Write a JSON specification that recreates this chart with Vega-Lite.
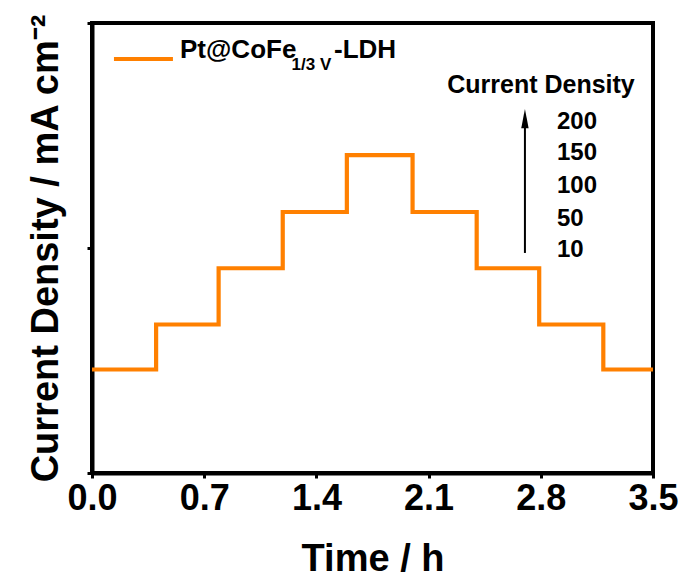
{
  "$schema": "https://vega.github.io/schema/vega-lite/v6.json",
  "width": 561,
  "height": 450,
  "autosize": {"type": "none"},
  "padding": {"left": 92, "top": 23, "right": 28, "bottom": 106},
  "background": "white",
  "config": {
    "font": "Liberation Sans",
    "view": {"stroke": "black", "strokeWidth": 4},
    "axis": {"grid": false, "domainColor": "black", "domainWidth": 4, "tickColor": "black", "tickWidth": 3, "tickSize": 5, "labelColor": "black", "titleColor": "black", "labelFont": "Liberation Sans", "titleFont": "Liberation Sans", "labelFontWeight": "bold", "titleFontWeight": "bold"}
  },
  "layer": [
    {
      "data": {"values": [
        {"t": 0, "j": 10}, {"t": 0.4, "j": 50}, {"t": 0.79, "j": 100}, {"t": 1.19, "j": 150},
        {"t": 1.59, "j": 200.5}, {"t": 2.0, "j": 150}, {"t": 2.4, "j": 100}, {"t": 2.79, "j": 50},
        {"t": 3.19, "j": 10}, {"t": 3.5, "j": 10}
      ]},
      "mark": {"type": "line", "interpolate": "step-after", "color": "#FF8000", "strokeWidth": 4.2, "clip": true},
      "encoding": {
        "x": {"field": "t", "type": "quantitative", "scale": {"domain": [0, 3.5], "nice": false, "zero": false},
          "axis": {"values": [0, 0.7, 1.4, 2.1, 2.8, 3.5], "format": ".1f", "title": "Time / h", "labelFontSize": 36, "titleFontSize": 38, "labelPadding": 3, "titlePadding": 24, "labelFlush": false}},
        "y": {"field": "j", "type": "quantitative", "scale": {"domain": [-82, 318], "nice": false, "zero": false},
          "axis": {"values": [-82, 118, 318], "labels": false, "title": "Current Density / mA cm⁻²", "titleFontSize": 38, "titlePadding": 20}}
      }
    },
    {
      "data": {"values": [{"x1": 0.137, "x2": 0.505, "y": 286}]},
      "mark": {"type": "rule", "color": "#FF8000", "strokeWidth": 4},
      "encoding": {"x": {"field": "x1", "type": "quantitative"}, "x2": {"field": "x2"}, "y": {"field": "y", "type": "quantitative"}}
    },
    {
      "data": {"values": [{"x": 0.549, "y": 287.3, "label": "Pt@CoFe"}, {"x": 1.51, "y": 287.3, "label": "-LDH"}]},
      "mark": {"type": "text", "align": "left", "baseline": "alphabetic", "fontSize": 26, "fontWeight": "bold", "color": "black"},
      "encoding": {"x": {"field": "x", "type": "quantitative"}, "y": {"field": "y", "type": "quantitative"}, "text": {"field": "label"}}
    },
    {
      "data": {"values": [{"x": 1.245, "y": 276, "label": "1/3 V"}]},
      "mark": {"type": "text", "align": "left", "baseline": "alphabetic", "fontSize": 17, "fontWeight": "bold", "color": "black"},
      "encoding": {"x": {"field": "x", "type": "quantitative"}, "y": {"field": "y", "type": "quantitative"}, "text": {"field": "label"}}
    },
    {
      "data": {"values": [{"x": 2.801, "y": 262.9, "label": "Current Density"}]},
      "mark": {"type": "text", "align": "center", "baseline": "middle", "fontSize": 25, "fontWeight": "bold", "color": "black"},
      "encoding": {"x": {"field": "x", "type": "quantitative"}, "y": {"field": "y", "type": "quantitative"}, "text": {"field": "label"}}
    },
    {
      "data": {"values": [
        {"x": 2.901, "y": 230, "label": "200"}, {"x": 2.901, "y": 202.4, "label": "150"},
        {"x": 2.901, "y": 173.1, "label": "100"}, {"x": 2.901, "y": 143.8, "label": "50"},
        {"x": 2.901, "y": 116.2, "label": "10"}
      ]},
      "mark": {"type": "text", "align": "left", "baseline": "middle", "fontSize": 24, "fontWeight": "bold", "color": "black"},
      "encoding": {"x": {"field": "x", "type": "quantitative"}, "y": {"field": "y", "type": "quantitative"}, "text": {"field": "label"}}
    },
    {
      "data": {"values": [{"x": 2.701, "y1": 113.6, "y2": 228}]},
      "mark": {"type": "rule", "color": "black", "strokeWidth": 2},
      "encoding": {"x": {"field": "x", "type": "quantitative"}, "y": {"field": "y1", "type": "quantitative"}, "y2": {"field": "y2"}}
    },
    {
      "data": {"values": [{"x": 2.701, "y": 233}]},
      "mark": {"type": "point", "shape": "M0,-1L0.38,1L-0.38,1Z", "size": 380, "filled": true, "color": "black", "opacity": 1},
      "encoding": {"x": {"field": "x", "type": "quantitative"}, "y": {"field": "y", "type": "quantitative"}}
    }
  ]
}
